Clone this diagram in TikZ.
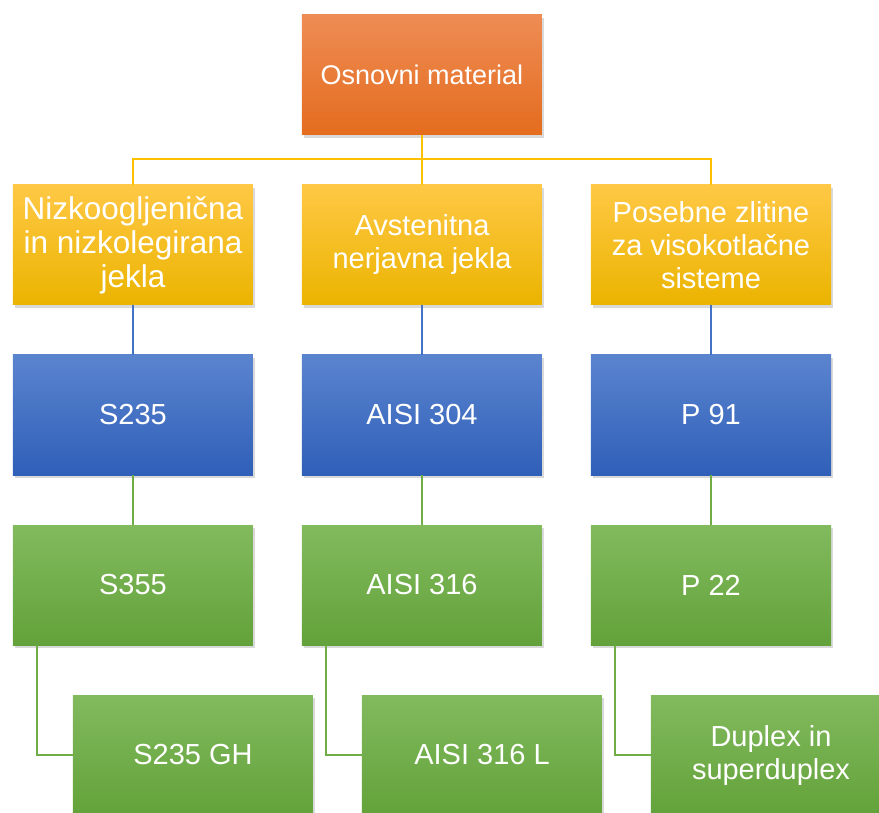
\documentclass[tikz,border=0pt]{standalone}
\usepackage{fontspec}
\setmainfont{Liberation Sans}
\usetikzlibrary{shadows}

\definecolor{orTop}{RGB}{238,140,85}
\definecolor{orMid}{RGB}{240,124,46}
\definecolor{orBot}{RGB}{228,108,30}
\definecolor{goTop}{RGB}{255,200,69}
\definecolor{goMid}{RGB}{255,192,0}
\definecolor{goBot}{RGB}{235,180,0}
\definecolor{blTop}{RGB}{91,132,207}
\definecolor{blMid}{RGB}{68,114,196}
\definecolor{blBot}{RGB}{47,95,184}
\definecolor{grTop}{RGB}{130,186,94}
\definecolor{grMid}{RGB}{112,173,71}
\definecolor{grBot}{RGB}{99,162,58}

\begin{document}
\begin{tikzpicture}
        \def\colw{289pt}
        \def\rowh{170pt}
        \tikzstyle{base}=[rectangle, minimum width=240pt, minimum height=120pt, inner sep=0pt,
            align=center, text=white, font=\fontsize{29}{33}\selectfont,
            drop shadow={shadow xshift=2pt, shadow yshift=-3pt, opacity=0.3}]
        \tikzstyle{orangebox}=[base, top color=orTop, middle color=orMid, bottom color=orBot, font=\fontsize{27}{31}\selectfont]
        \tikzstyle{goldbox}=[base, top color=goTop, middle color=goMid, bottom color=goBot]
        \tikzstyle{bluebox}=[base, top color=blTop, middle color=blMid, bottom color=blBot]
        \tikzstyle{greenbox}=[base, top color=grTop, middle color=grMid, bottom color=grBot]
        \tikzstyle{yline}=[draw=goMid, line width=2pt]
        \tikzstyle{bline}=[draw=blMid, line width=2pt]
        \tikzstyle{gline}=[draw=grMid, line width=2pt]

        \useasboundingbox (-422pt,75pt) rectangle (457pt,-738pt);

        % Nodes
        \node[orangebox] (osn) at (0 * \colw, 0 * \rowh) {Osnovni material};

        \node[goldbox, font=\fontsize{31.5}{34}\selectfont] (nizko) at (-1 * \colw, -1 * \rowh) {Nizkoogljenična\\in nizkolegirana\\jekla};
        \node[goldbox] (avst) at (0 * \colw, -1 * \rowh) {Avstenitna\\nerjavna jekla};
        \node[goldbox] (poseb) at (1 * \colw, -1 * \rowh) {Posebne zlitine\\za visokotlačne\\sisteme};

        \node[bluebox] (s235) at (-1 * \colw, -2 * \rowh) {S235};
        \node[bluebox] (aisi304) at (0 * \colw, -2 * \rowh) {AISI 304};
        \node[bluebox] (p91) at (1 * \colw, -2 * \rowh) {P 91};

        \node[greenbox] (s355) at (-1 * \colw, -3 * \rowh) {S355};
        \node[greenbox] (aisi316) at (0 * \colw, -3 * \rowh) {AISI 316};
        \node[greenbox] (p22) at (1 * \colw, -3 * \rowh) {P 22};

        \node[greenbox] (s235gh) at ([xshift=60pt]-1 * \colw, -4 * \rowh) {S235 GH};
        \node[greenbox] (aisi316l) at ([xshift=60pt]0 * \colw, -4 * \rowh) {AISI 316 L};
        \node[greenbox] (duplex) at ([xshift=60pt]1 * \colw, -4 * \rowh) {Duplex in\\superduplex};

        % Edges
        \draw[yline] (osn.south) -- ([yshift=-24pt]osn.south) -| (nizko.north);
        \draw[yline] (osn.south) -- (avst.north);
        \draw[yline] ([yshift=-24pt]osn.south) -| (poseb.north);

        \draw[bline] (nizko) -- (s235);
        \draw[bline] (avst) -- (aisi304);
        \draw[bline] (poseb) -- (p91);

        \draw[gline] (s235) -- (s355);
        \draw[gline] (aisi304) -- (aisi316);
        \draw[gline] (p91) -- (p22);

        \draw[gline] ([xshift=24pt]s355.south west) |- (s235gh.west);
        \draw[gline] ([xshift=24pt]aisi316.south west) |- (aisi316l.west);
        \draw[gline] ([xshift=24pt]p22.south west) |- (duplex.west);

    \end{tikzpicture}
\end{document}
